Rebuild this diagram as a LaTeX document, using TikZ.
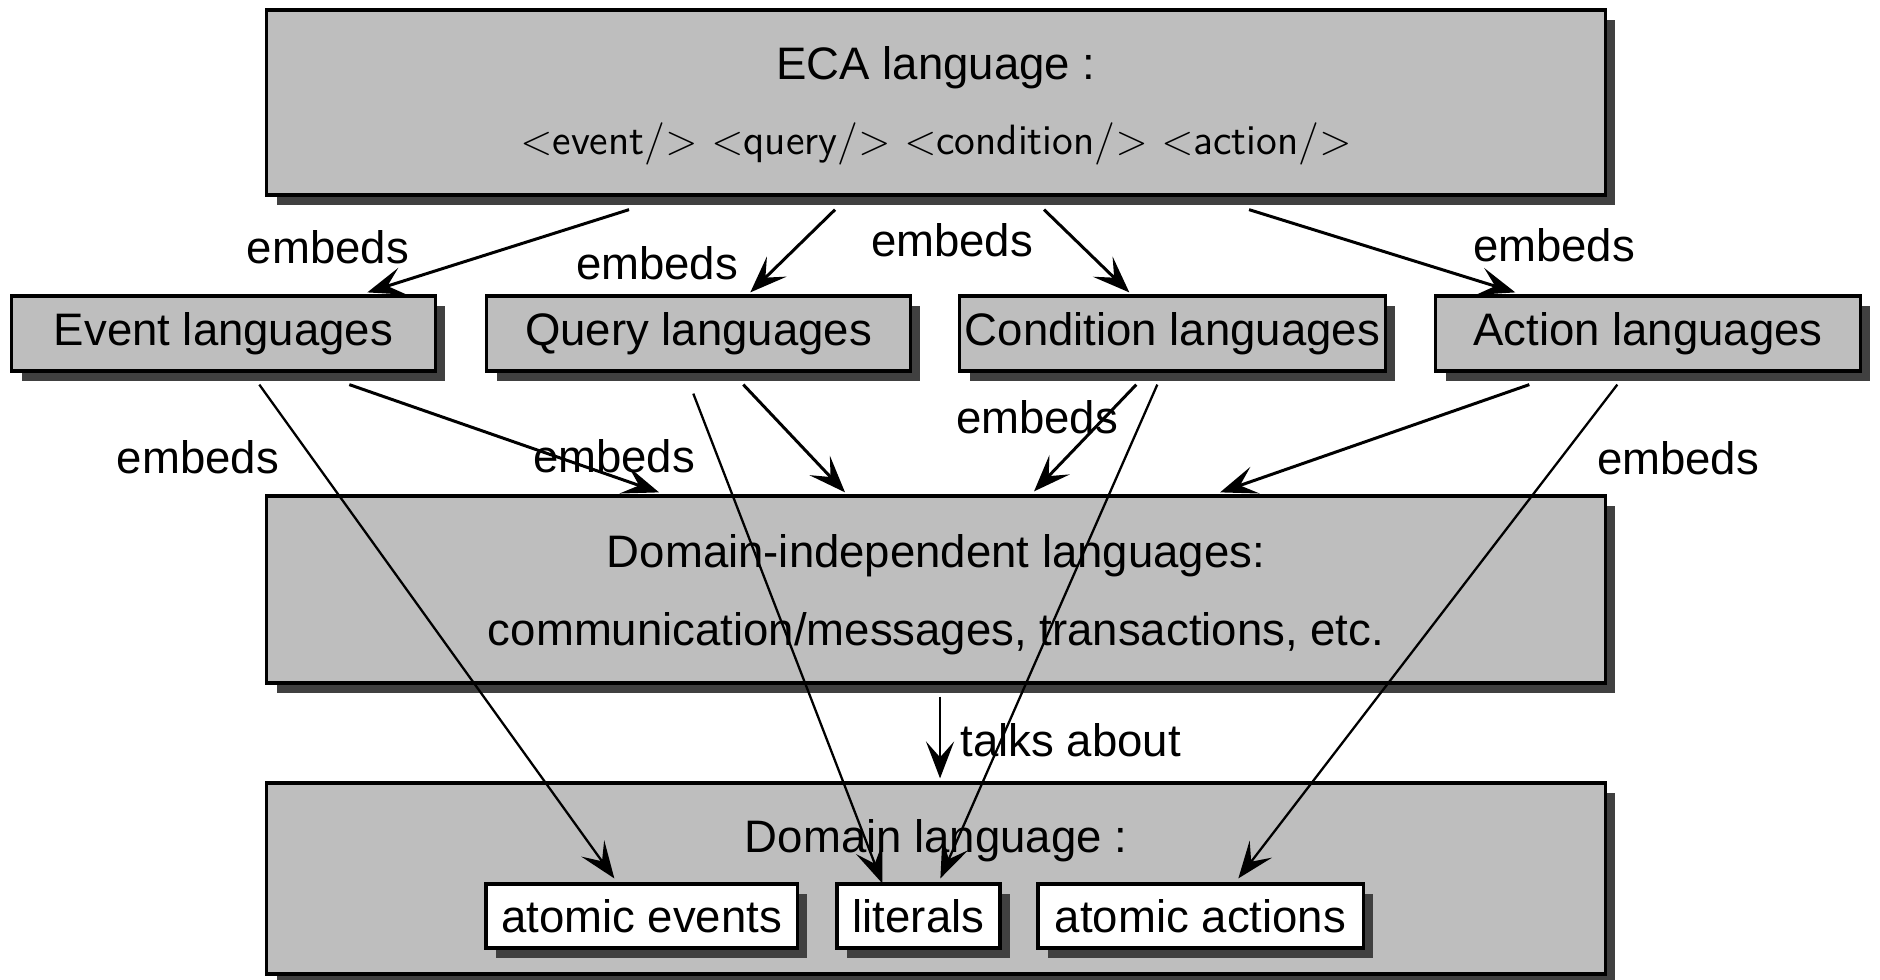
\documentclass[tikz,border=0pt]{standalone}
\usepackage{fontspec}
\setmainfont{Liberation Sans}
\usetikzlibrary{shadows,arrows.meta,calc}
\definecolor{boxgray}{RGB}{190,190,190}
\definecolor{shadowgray}{RGB}{64,64,64}
\begin{document}
\begin{tikzpicture}[x=0.01cm,y=-0.01cm,
  every node/.style={font=\fontsize{12.95}{15}\selectfont},
  box/.style={draw=black, line width=0.9pt, fill=boxgray, inner sep=0pt,
    drop shadow={shadow xshift=0.1cm, shadow yshift=-0.1cm, fill=shadowgray, opacity=1}},
  whitebox/.style={box, fill=white},
  lbl/.style={inner sep=0pt},
  arr/.style={-{Stealth[length=10.5pt,width=8pt,inset=4.5pt]}, line width=0.85pt},
  longarr/.style={arr, line width=0.65pt}]
\fill[white] (0,0) rectangle (1880,979);
\useasboundingbox (0,0) rectangle (1880,979);

% top level: the ECA language
\node[box, minimum width=13.38cm, minimum height=1.85cm] (eca) at (936,102.5) {};
\node[lbl, anchor=base] (ecat) at ($(eca.center)+(0,-22.5)$) {ECA language :};
\node[lbl, anchor=base, font=\sffamily\fontsize{12.05}{14}\selectfont] (tags) at ($(eca.center)+(0,52.5)$)
  {$<$event/$>$ $<$query/$>$ $<$condition/$>$ $<$action/$>$};

% component languages
\node[box, minimum width=4.23cm, minimum height=0.75cm] (ev) at (223.5,333.5) {Event languages};
\node[box, minimum width=4.23cm, minimum height=0.75cm] (qu) at (698.5,333.5) {Query languages};
\node[box, minimum width=4.25cm, minimum height=0.75cm] (co) at (1172.5,333.5) {Condition languages};
\node[box, minimum width=4.24cm, minimum height=0.75cm] (ac) at (1648,333.5) {Action languages};

% domain-independent languages
\node[box, minimum width=13.38cm, minimum height=1.87cm] (di) at (936,589.5) {};
\node[lbl, anchor=base] (dit1) at ($(di.center)+(0,-22.5)$) {Domain-independent languages:};
\node[lbl, anchor=base] (dit2) at ($(di.center)+(0,55.5)$) {communication/messages, transactions, etc.};

% domain language
\node[box, minimum width=13.38cm, minimum height=1.91cm] (dom) at (936,878.5) {};
\node[lbl, anchor=base] (domt) at ($(dom.center)+(0,-26.5)$) {Domain language :};
\node[whitebox, minimum width=3.11cm, minimum height=0.64cm] (ae) at (641.5,916) {atomic events};
\node[whitebox, minimum width=1.63cm, minimum height=0.64cm] (lit) at (918.5,916) {literals};
\node[whitebox, minimum width=3.25cm, minimum height=0.64cm] (aa) at (1200.5,916) {atomic actions};

% ECA embeds the component languages
\draw[arr] ($(eca.south west)+(364,13)$) -- ($(ev.north west)+(357,-2)$);
\draw[arr] ($(eca.south west)+(570,13)$) -- ($(qu.north west)+(265,-2)$);
\draw[arr] ($(eca.south west)+(779,13)$) -- ($(co.north west)+(171,-2)$);
\draw[arr] ($(eca.south west)+(984,13)$) -- ($(ac.north west)+(81,-2)$);

% component languages embed the domain-independent languages
\draw[arr] ($(ev.south west)+(339,12)$) -- ($(di.north west)+(394,-2)$);
\draw[arr] ($(qu.south west)+(258,12)$) -- ($(di.north west)+(580,-2)$);
\draw[arr] ($(co.south west)+(178,12)$) -- ($(di.north west)+(769,-3)$);
\draw[arr] ($(ac.south west)+(95,12)$) -- ($(di.north west)+(955,-2)$);

% component languages embed parts of the domain language
\draw[longarr] ($(ev.south west)+(249,12)$) -- ($(ae.north west)+(130,-4)$);
\draw[longarr] ($(qu.south west)+(208,21)$) -- ($(lit.north west)+(47,1)$);
\draw[longarr] ($(co.south west)+(199,12)$) -- ($(lit.north west)+(105,-4)$);
\draw[longarr] ($(ac.south west)+(183,12)$) -- ($(aa.north west)+(202,-4)$);

% talks about
\draw[longarr] ($(di.south west)+(675,12)$) -- ($(dom.north west)+(675,-3)$);
\node[lbl, anchor=west] (talks) at (960,740) {talks about};

% edge labels
\node[lbl] (e1) at (328,247) {embeds};
\node[lbl] (e2) at (657,263) {embeds};
\node[lbl] (e3) at (952,240) {embeds};
\node[lbl] (e4) at (1554,245) {embeds};
\node[lbl] (e5) at (198,457) {embeds};
\node[lbl] (e6) at (614,456) {embeds};
\node[lbl] (e7) at (1037,417) {embeds};
\node[lbl] (e8) at (1678,458) {embeds};
\end{tikzpicture}
\end{document}
